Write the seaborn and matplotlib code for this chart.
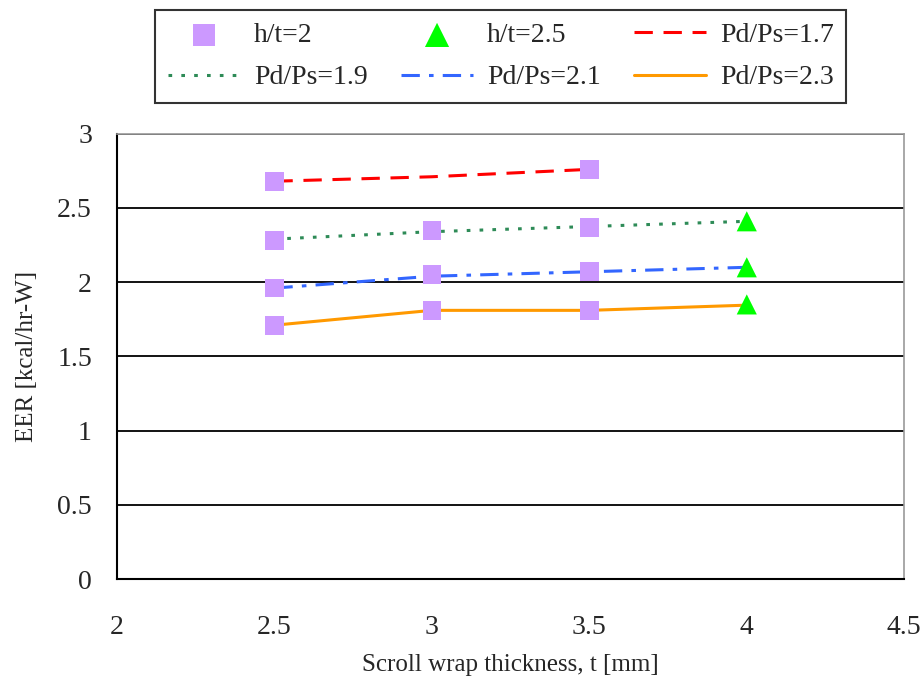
import matplotlib
matplotlib.use("Agg")
import matplotlib.pyplot as plt
import pandas as pd
import seaborn as sns

# Marker data
thickness_ht2 = [2.5, 2.5, 2.5, 2.5, 3.0, 3.0, 3.0, 3.5, 3.5, 3.5, 3.5]
eer_ht2 = [2.68, 2.28, 1.96, 1.71, 2.35, 2.05, 1.81, 2.76, 2.37, 2.07, 1.81]
thickness_ht25 = [4.0, 4.0, 4.0]
eer_ht25 = [2.41, 2.10, 1.85]

# Pressure ratio curves
thickness_line = [2.5, 3.0, 3.5, 4.0]
eer_pr17 = [2.68, 2.71, 2.76]
eer_pr19 = [2.29, 2.34, 2.375, 2.41]
eer_pr21 = [1.96, 2.04, 2.07, 2.10]
eer_pr23 = [1.71, 1.81, 1.81, 1.845]

sns.set_style("white")
plt.rcParams["font.family"] = ["Liberation Serif", "DejaVu Serif"]

fig = plt.figure(figsize=(9.24, 6.84), dpi=100)
ax = fig.add_axes([0.1266, 0.1535, 0.852, 0.651])

pr_df = pd.concat([
    pd.DataFrame({"t": thickness_line[:3], "eer": eer_pr17, "s": "Pd/Ps=1.7"}),
    pd.DataFrame({"t": thickness_line, "eer": eer_pr19, "s": "Pd/Ps=1.9"}),
    pd.DataFrame({"t": thickness_line, "eer": eer_pr21, "s": "Pd/Ps=2.1"}),
    pd.DataFrame({"t": thickness_line, "eer": eer_pr23, "s": "Pd/Ps=2.3"}),
])
styles = {
    "Pd/Ps=1.7": ("#ff0000", (0, (6, 3.5))),
    "Pd/Ps=1.9": ("#2e8b57", (0, (1.2, 3))),
    "Pd/Ps=2.1": ("#3366ff", (0, (6, 3, 1.5, 3))),
    "Pd/Ps=2.3": ("#ff9900", "-"),
}

for name, (color, ls) in styles.items():
    sub = pr_df[pr_df["s"] == name]
    sns.lineplot(data=sub, x="t", y="eer", ax=ax, color=color, linestyle=ls,
                 linewidth=2.2, label=name, zorder=3)

sns.scatterplot(x=thickness_ht2, y=eer_ht2, ax=ax, marker="s", s=180,
                color="#cc99ff", edgecolor="none", label="h/t=2", zorder=4)
sns.scatterplot(x=thickness_ht25, y=eer_ht25, ax=ax, marker="^", s=210,
                color="#00ff00", edgecolor="none", label="h/t=2.5", zorder=4)

ax.set_xlim(2, 4.5)
ax.set_ylim(0, 3)
ax.set_xticks([2, 2.5, 3, 3.5, 4, 4.5])
ax.set_xticklabels(["2", "2.5", "3", "3.5", "4", "4.5"])
ax.set_yticks([0, 0.5, 1, 1.5, 2, 2.5, 3])
ax.set_yticklabels(["0", "0.5", "1", "1.5", "2", "2.5", "3"])
ax.yaxis.grid(True, color="black", linewidth=1.3)
ax.set_axisbelow(True)
ax.tick_params(axis="x", direction="in", length=6, width=1.2, pad=26, labelsize=20)
ax.tick_params(axis="y", direction="in", length=6, width=1.2, pad=18, labelsize=20)
ax.set_xlabel("Scroll wrap thickness, t [mm]", fontsize=18, labelpad=10)
ax.set_ylabel("EER [kcal/hr-W]", fontsize=18, labelpad=14)

for side in ["left", "bottom"]:
    ax.spines[side].set_color("black")
    ax.spines[side].set_linewidth(1.5)
for side in ["top", "right"]:
    ax.spines[side].set_color("#999999")
    ax.spines[side].set_linewidth(1.2)

h, l = ax.get_legend_handles_labels()
hmap = dict(zip(l, h))
if ax.get_legend() is not None:
    ax.get_legend().remove()
# Legend reads row by row; matplotlib fills columns first
col_order = ["h/t=2", "Pd/Ps=1.9", "h/t=2.5", "Pd/Ps=2.1", "Pd/Ps=1.7", "Pd/Ps=2.3"]
leg = fig.legend([hmap[k] for k in col_order], col_order, ncol=3, loc="upper left",
                 bbox_to_anchor=(0.168, 0.985), borderaxespad=0, frameon=True,
                 fancybox=False, edgecolor="black", fontsize=20, handlelength=2.6,
                 columnspacing=1.2, borderpad=0.45, labelspacing=0.6,
                 handletextpad=0.5, markerscale=1.2)
leg.get_frame().set_linewidth(1.5)

fig.savefig("out.png", dpi=100, facecolor="white")
